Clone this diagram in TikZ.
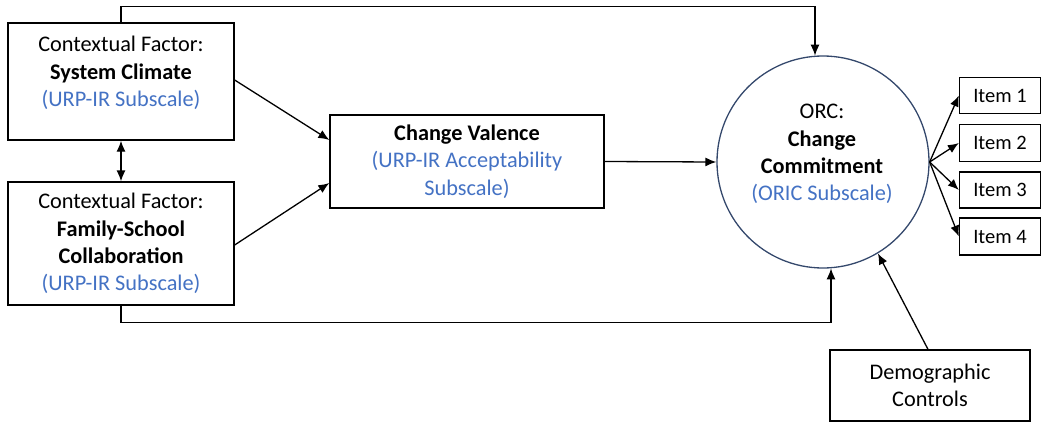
\documentclass[tikz,border=0pt]{standalone}
\usepackage{fontspec}
\setmainfont{Carlito}
\usetikzlibrary{arrows.meta,calc}
\definecolor{subblue}{RGB}{68,114,196}
\definecolor{ringblue}{RGB}{52,72,108}
\tikzset{
  box/.style={draw=black, line width=1.3pt, fill=white, inner sep=0pt},
  txt/.style={align=center, font=\fontsize{22.3}{27.3}\selectfont, inner sep=0pt},
  itemtxt/.style={font=\fontsize{20.5}{24}\selectfont, inner sep=0pt},
  conn/.style={line width=1.3pt, -{Latex[length=11pt,width=9pt]}},
  both/.style={line width=1.3pt, {Latex[length=11pt,width=9pt]}-{Latex[length=11pt,width=9pt]}},
  sub/.style={text=subblue}
}
\begin{document}
\begin{tikzpicture}[x=1pt,y=-1pt]
\useasboundingbox (0,0) rectangle (1045,423);

% boxes
\node[box, minimum width=226, minimum height=117] (sc) at (121,81.5) {};
\node[txt] (sctxt) at (121,73) {Contextual Factor:\\\textbf{System Climate}\\{\color{subblue}(URP-IR Subscale)}};

\node[box, minimum width=226, minimum height=123, txt] (fsc) at (121,243.5)
  {Contextual Factor:\\\textbf{Family-School}\\\textbf{Collaboration}\\{\color{subblue}(URP-IR Subscale)}};

\node[box, minimum width=274, minimum height=93, txt] (cv) at (467,161.5)
  {\textbf{Change Valence}\\{\color{subblue}(URP-IR Acceptability}\\{\color{subblue}Subscale)}};

\node[draw=ringblue, line width=1.3pt, circle, minimum size=212, inner sep=0pt] (orc) at (823,162) {};
\node[txt] (orctxt) at (822,154) {ORC:\\\textbf{Change}\\\textbf{Commitment}\\{\color{subblue}(ORIC Subscale)}};

\node[box, minimum width=81, minimum height=36, itemtxt] (i1) at (1000,95.5) {Item 1};
\node[box, minimum width=81, minimum height=37, itemtxt] (i2) at (1000,143) {Item 2};
\node[box, minimum width=81, minimum height=36, itemtxt] (i3) at (1000,190) {Item 3};
\node[box, minimum width=81, minimum height=37, itemtxt] (i4) at (1000,236.5) {Item 4};

\node[box, minimum width=200, minimum height=71, txt] (dem) at (930,385.5) {Demographic\\Controls};

% connectors
\draw[both] (sc.south) -- (fsc.north);
\draw[conn] (sc.east |- 0,80) -- (cv.west |- 0,140);
\draw[conn] (fsc.east |- 0,245) -- (cv.west |- 0,183);
\draw[conn] (cv.east) -- (orc.west);
\draw[conn] (sc.north) -- ++(0,-16) -| ($(orc.north)+(-8,0.3)$);
\draw[conn] (fsc.south) -- ++(0,17) -| ($(orc.south)+(8,-0.3)$);
\draw[conn] ($(dem.north)+(-2,0)$) -- (orc.-59);
\foreach \i in {i1,i2,i3,i4} \draw[conn] (orc.east) -- (\i.west);
\end{tikzpicture}
\end{document}
